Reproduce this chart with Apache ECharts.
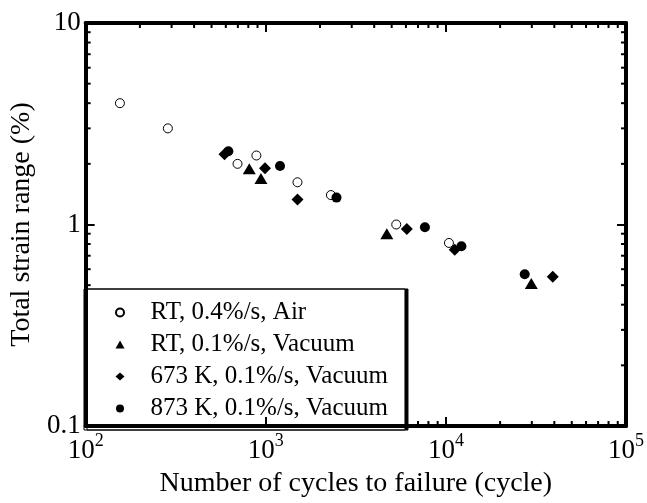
<!DOCTYPE html>
<html>
<head>
<meta charset="utf-8">
<script src="https://cdn.jsdelivr.net/npm/echarts@6/dist/echarts.min.js"></script>
<style>html,body{margin:0;padding:0;background:#fff}#c{width:647px;height:503px}</style>
</head>
<body>
<div id="c"></div>
<script>
// Data: [cycles to failure, total strain range %]
var rtAir = [[155, 4.0], [286, 3.0], [697, 2.0], [887, 2.2], [1500, 1.62], [2300, 1.4], [5300, 1.0], [10400, 0.81]];
var rtVac = [[810, 1.89], [940, 1.69], [4700, 0.90], [29800, 0.51]];
var k673Vac = [[590, 2.23], [990, 1.90], [1500, 1.33], [6070, 0.95], [11200, 0.75], [39200, 0.55]];
var k873Vac = [[620, 2.31], [1200, 1.95], [2470, 1.36], [7650, 0.97], [12200, 0.78], [27400, 0.566]];
var seriesNames = ['RT, 0.4%/s, Air', 'RT, 0.1%/s, Vacuum', '673 K, 0.1%/s, Vacuum', '873 K, 0.1%/s, Vacuum'];
var xTickExponents = [2, 3, 4, 5];
var yTickLabels = ['0.1', '1', '10'];
var xMinorTicks = [];
var yMinorTicks = [];
[100, 1000, 10000].forEach(function (d) { for (var m = 2; m <= 9; m++) xMinorTicks.push(m * d); });
[0.1, 1].forEach(function (d) { for (var m = 2; m <= 9; m++) yMinorTicks.push(+(m * d).toFixed(2)); });

var FONT = '"Liberation Serif", "Times New Roman", serif';
var chart = echarts.init(document.getElementById('c'), null, {renderer: 'canvas'});

function minorTickSeries(vals, isX) {
  return {
    type: 'custom',
    coordinateSystem: 'cartesian2d',
    silent: true,
    clip: false,
    z: 5,
    data: vals.map(function (v) { return isX ? [v, 1] : [1000, v]; }),
    encode: {x: 0, y: 1},
    renderItem: function (params, api) {
      var cs = params.coordSys;
      var L = 5;
      var st = {stroke: '#000', lineWidth: 2};
      if (isX) {
        var x = api.coord([api.value(0), 1])[0];
        return {type: 'group', children: [
          {type: 'line', shape: {x1: x, y1: cs.y + cs.height, x2: x, y2: cs.y + cs.height - L}, style: st},
          {type: 'line', shape: {x1: x, y1: cs.y, x2: x, y2: cs.y + L}, style: st}
        ]};
      } else {
        var y = api.coord([1000, api.value(1)])[1];
        return {type: 'group', children: [
          {type: 'line', shape: {x1: cs.x, y1: y, x2: cs.x + L, y2: y}, style: st},
          {type: 'line', shape: {x1: cs.x + cs.width, y1: y, x2: cs.x + cs.width - L, y2: y}, style: st}
        ]};
      }
    }
  };
}

var axisLineStyle = {show: true, lineStyle: {color: '#000', width: 4}};
var tickStyle = {show: true, inside: true, length: 9, lineStyle: {color: '#000', width: 2}};

var option = {
  backgroundColor: '#fff',
  animation: false,
  grid: {left: 84, right: 20, top: 23, bottom: 72, containLabel: false},
  legend: {
    data: seriesNames,
    orient: 'vertical',
    left: 84,
    top: 289,
    itemWidth: 9,
    itemHeight: 8,
    itemGap: 7,
    symbolKeepAspect: true,
    padding: [11, 17, 9, 31],
    backgroundColor: '#fff',
    borderColor: '#000',
    borderWidth: 1,
    shadowColor: '#000',
    shadowBlur: 0,
    shadowOffsetX: 3,
    shadowOffsetY: 0,
    textStyle: {fontFamily: FONT, fontSize: 25, color: '#000', padding: [0, 0, 0, 21]},
    z: 6
  },
  xAxis: [{
    type: 'log', logBase: 10, min: 100, max: 100000,
    name: 'Number of cycles to failure (cycle)',
    nameLocation: 'middle', nameGap: 44,
    nameTextStyle: {fontFamily: FONT, fontSize: 28, color: '#000'},
    axisLine: axisLineStyle, axisTick: tickStyle, splitLine: {show: false},
    axisLabel: {
      margin: 6, color: '#000',
      formatter: function (v) {
        var e = Math.round(Math.log10(v));
        return xTickExponents.indexOf(e) >= 0 ? '{b|10}{s|' + e + '}' : '';
      },
      rich: {
        b: {fontFamily: FONT, fontSize: 27, color: '#000', lineHeight: 32, verticalAlign: 'bottom'},
        s: {fontFamily: FONT, fontSize: 18, color: '#000', lineHeight: 32, verticalAlign: 'top'}
      }
    },
    z: 10
  }, {
    type: 'log', logBase: 10, min: 100, max: 100000, position: 'top',
    axisLine: axisLineStyle, axisTick: tickStyle, axisLabel: {show: false}, splitLine: {show: false}, z: 10
  }],
  yAxis: [{
    type: 'log', logBase: 10, min: 0.1, max: 10,
    name: 'Total strain range (%)',
    nameLocation: 'middle', nameGap: 48,
    nameTextStyle: {fontFamily: FONT, fontSize: 28, color: '#000'},
    axisLine: axisLineStyle, axisTick: tickStyle, splitLine: {show: false},
    axisLabel: {
      margin: 5, fontFamily: FONT, fontSize: 27, color: '#000',
      formatter: function (v) {
        var i = Math.round(Math.log10(v)) + 1;
        return yTickLabels[i] || '';
      }
    },
    z: 10
  }, {
    type: 'log', logBase: 10, min: 0.1, max: 10, position: 'right',
    axisLine: axisLineStyle, axisTick: tickStyle, axisLabel: {show: false}, splitLine: {show: false}, z: 10
  }],
  series: [
    {name: seriesNames[0], type: 'scatter', data: rtAir, symbol: 'circle', symbolSize: 9,
     itemStyle: {color: '#fff', borderColor: '#000', borderWidth: 1, opacity: 1}},
    {name: seriesNames[1], type: 'scatter', data: rtVac, symbol: 'triangle', symbolSize: [13, 11],
     itemStyle: {color: '#000', opacity: 1}},
    {name: seriesNames[2], type: 'scatter', data: k673Vac, symbol: 'diamond', symbolSize: 12,
     itemStyle: {color: '#000', opacity: 1}},
    {name: seriesNames[3], type: 'scatter', data: k873Vac, symbol: 'circle', symbolSize: 10,
     itemStyle: {color: '#000', opacity: 1}},
    minorTickSeries(xMinorTicks, true),
    minorTickSeries(yMinorTicks, false)
  ]
};
chart.setOption(option);
</script>
</body>
</html>
